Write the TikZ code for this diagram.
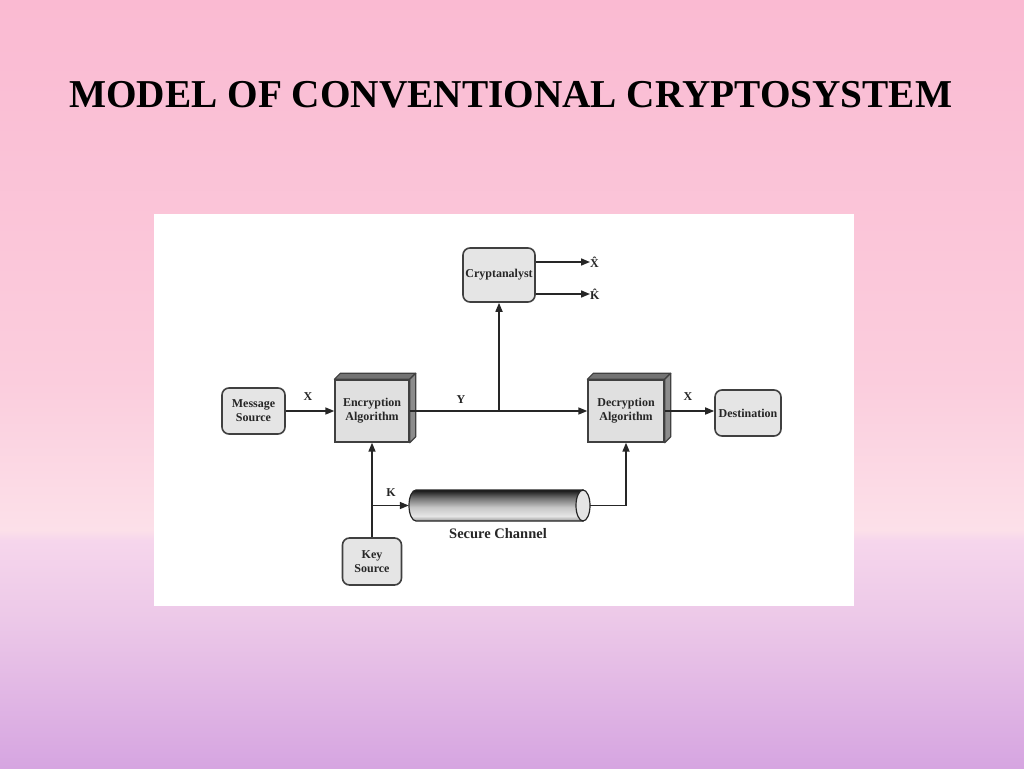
\documentclass[tikz,border=0pt]{standalone}
\usepackage{fontspec}
\usepackage{graphicx}
\setmainfont{Liberation Serif}
\usetikzlibrary{calc,arrows.meta}
\definecolor{bgT}{RGB}{250,186,210}
\definecolor{bgA}{RGB}{251,205,221}
\definecolor{bgB}{RGB}{252,224,233}
\definecolor{bgC}{RGB}{246,214,236}
\definecolor{bgD}{RGB}{236,200,232}
\definecolor{bgE}{RGB}{214,165,225}
% path bounding box maps to 25bp..75bp
\pgfdeclareverticalshading{bgshade}{100bp}{color(0bp)=(bgE); color(25bp)=(bgE); color(34.65bp)=(bgD); color(39.85bp)=(bgC); color(40.5bp)=(bgB); color(50.25bp)=(bgA); color(75bp)=(bgT); color(100bp)=(bgT)}
\pgfdeclareverticalshading{cylshade}{100bp}{color(0bp)=(black!40); color(25bp)=(black!40); color(33bp)=(black!10); color(47bp)=(black!22); color(62bp)=(black!55); color(75bp)=(black!92); color(100bp)=(black!92)}
\tikzset{
  roundbox/.style={draw=black!75, line width=1.6pt, fill=black!10, rounded corners=7pt,
    font=\bfseries\fontsize{12}{14}\selectfont, text=black!85, align=center, inner sep=0pt},
  algbox/.style={draw=black!75, line width=1.4pt, fill=black!12, align=center,
    font=\bfseries\fontsize{12}{14}\selectfont, text=black!85, inner sep=0pt,
    minimum width=74pt, minimum height=62pt},
  facetop/.style={draw=black!75, line width=1.2pt, fill=black!55, line join=round},
  faceside/.style={draw=black!75, line width=1.2pt, fill=black!45, line join=round},
  arr/.style={draw=black!85, line width=1.6pt, -{Triangle[length=9pt,width=7pt]}},
  lbl/.style={font=\bfseries\fontsize{12}{14}\selectfont, text=black!85, inner sep=0pt},
}
\begin{document}
\begin{tikzpicture}[x=1pt,y=-1pt]
\useasboundingbox (0,0) rectangle (1024,768);
\shade[shading=bgshade] (0,0) rectangle (1024,768);
\fill[white] (154,214) rectangle (854,606);

\node[anchor=base west, inner sep=0pt] (title) at (69,107.5)
  {\resizebox{883pt}{\height}{\fontsize{39.5}{40}\selectfont\bfseries MODEL OF CONVENTIONAL CRYPTOSYSTEM}};

% nodes
\node[roundbox, minimum width=63pt, minimum height=46pt] (msg) at (253.5,411) {Message\\Source};
\node[algbox] (enc) at (372,411) {Encryption\\Algorithm};
\node[algbox, minimum width=76pt] (dec) at (626,411) {Decryption\\Algorithm};
\node[roundbox, minimum width=72pt, minimum height=54pt] (crypt) at (499,275) {Cryptanalyst};
\node[roundbox, minimum width=66pt, minimum height=46pt] (dest) at (748,413) {Destination};
\node[roundbox, minimum width=59pt, minimum height=47pt] (key) at (372,561.5) {Key\\Source};

% 3D faces
\foreach \n in {enc,dec}{
  \draw[facetop] (\n.north west) -- ++(6,-6) -- ($(\n.north east)+(6,-6)$) -- (\n.north east) -- cycle;
  \draw[faceside] (\n.north east) -- ++(6,-6) -- ($(\n.south east)+(6,-6)$) -- (\n.south east) -- cycle;
}

% secure channel cylinder
\node[minimum width=181pt, minimum height=31pt, inner sep=0pt] (chan) at (499.5,505.5) {};
\shadedraw[shading=cylshade, draw=black!85, line width=1.2pt]
  (583,490) -- (416,490) arc[start angle=90, end angle=270, x radius=7pt, y radius=15.5pt]
  -- (583,521) -- cycle;
\draw[fill=black!10, draw=black!85, line width=1.2pt] (583,505.5) ellipse[x radius=7pt, y radius=15.5pt];
\node[lbl, font=\bfseries\fontsize{14.5}{16}\selectfont] (chl) at (498,534) {Secure Channel};

% labels
\node[lbl] (lx1) at (308,397) {X};
\node[lbl] (ly) at (461,400) {Y};
\node[lbl] (lx2) at (688,397) {X};
\node[lbl] (lk) at (391,493) {K};
\node[lbl, anchor=west] (xh) at (590,262) {X\char"0302};
\node[lbl, anchor=west] (kh) at (590,294) {K\char"0302};

% connectors
\draw[arr] (msg.east) -- (enc.west);
\draw[arr] (enc.east) -- (dec.west);
\coordinate (yb) at (crypt.south |- enc.east);
\draw[arr] (yb) -- (crypt.south);
\draw[arr] (dec.east) -- (dest.west |- dec.east);
\draw[arr] (crypt.east |- xh.west) -- (xh.west);
\draw[arr] (crypt.east |- kh.west) -- (kh.west);
\draw[arr] (key.north) -- (enc.south);
\coordinate (kb) at (key.north |- chan.west);
\draw[arr] (kb) -- (chan.west);
\draw[arr] (chan.east) -| (dec.south);
\end{tikzpicture}
\end{document}
